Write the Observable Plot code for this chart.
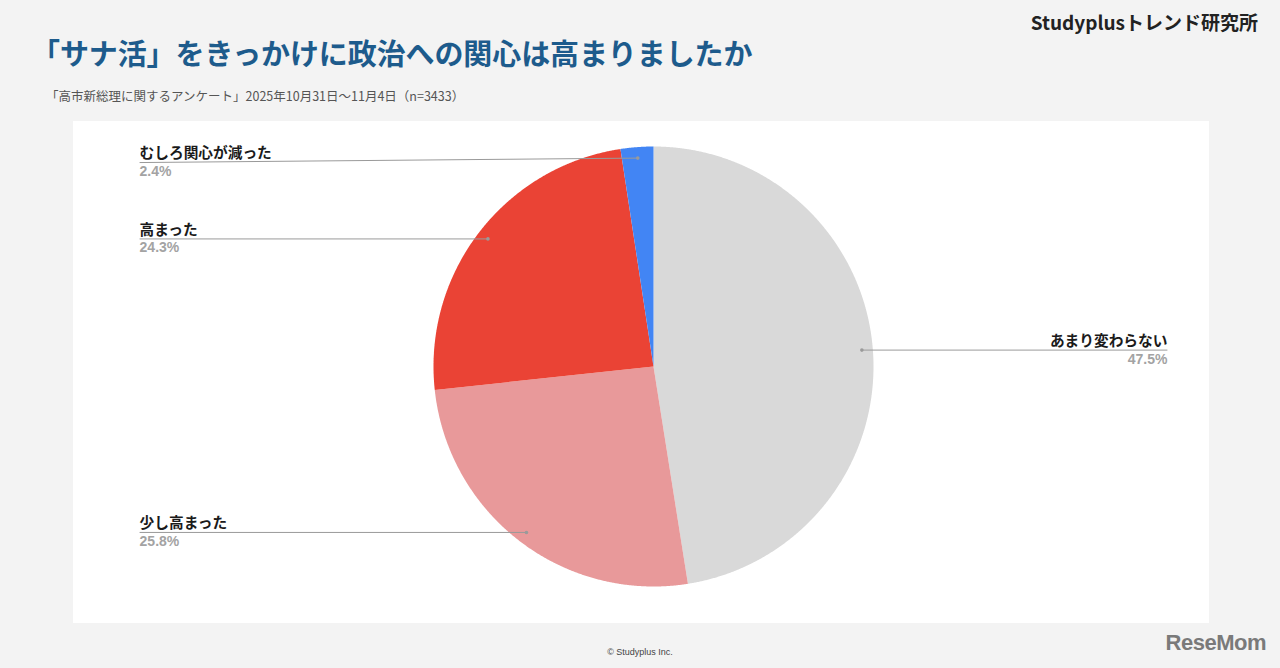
<!DOCTYPE html>
<html lang="ja">
<head>
<meta charset="utf-8">
<script src="https://cdn.jsdelivr.net/npm/d3@7"></script>
<script src="https://cdn.jsdelivr.net/npm/@observablehq/plot@0.6"></script>
<style>
  html, body { margin: 0; padding: 0; }
  body { width: 1280px; height: 668px; background: #f3f3f3; position: relative; overflow: hidden;
         font-family: "Noto Sans CJK JP", "Noto Sans", sans-serif; }
  .abs { position: absolute; white-space: nowrap; }
  #title { left: 31px; top: 32px; font-size: 29px; font-weight: 700; color: #1d5b8c; letter-spacing: -0.1px; line-height: 40px; }
  #subtitle { left: 46px; top: 87px; font-size: 12.5px; color: #555; line-height: 18px; }
  #brand { right: 22px; top: 9px; font-size: 19px; font-weight: 700; color: #222; line-height: 26px; }
  #panel { left: 73px; top: 121px; width: 1136px; height: 502px; background: #fff; }
  #footer { left: 0; width: 1280px; text-align: center; top: 647px; font-size: 9px; color: #444; font-family: "Liberation Sans", Arial, sans-serif; }
  #logo { right: 14px; top: 630px; font-size: 22px; font-weight: 700; color: #7a7a7a; font-family: "Liberation Sans", Arial, sans-serif; letter-spacing: -0.5px; }
</style>
</head>
<body>
<div id="title" class="abs">「サナ活」をきっかけに政治への関心は高まりましたか</div>
<div id="subtitle" class="abs">「高市新総理に関するアンケート」2025年10月31日～11月4日（n=3433）</div>
<div id="brand" class="abs">Studyplusトレンド研究所</div>
<div id="panel" class="abs"></div>
<div id="footer" class="abs">© Studyplus Inc.</div>
<div id="logo" class="abs">ReseMom</div>
<script>
// ---- data ----
const categories = ["あまり変わらない", "少し高まった", "高まった", "むしろ関心が減った"];
const values = [47.5, 25.8, 24.3, 2.4];
const valueLabels = ["47.5%", "25.8%", "24.3%", "2.4%"];
const colors = ["#d9d9d9", "#e8999a", "#ea4335", "#4285f4"];

// ---- layout (unit = pie radius) ----
const W = 1136, H = 502, R = 220;
const cx = 580, cy = 245;           // pie centre in panel px
const dotR = 0.95;                  // leader dot radius fraction
const labelX = 2.336;               // label column distance
const maxLabelY = 0.927;

const slices = d3.pie().sort(null).value(d => d.value)(
  categories.map((c, i) => ({cat: c, value: values[i], label: valueLabels[i]}))
).map(a => {
  const mid = (a.startAngle + a.endAngle) / 2;
  const dx = dotR * Math.sin(mid), dy = dotR * Math.cos(mid);
  const left = mid > Math.PI;
  const ly = Math.max(-maxLabelY, Math.min(maxLabelY, dy));
  return {...a.data, start: a.startAngle, end: a.endAngle, dx, dy,
          lx: left ? -labelX : labelX, ly, left};
});
const leftSlices = slices.filter(s => s.left);
const rightSlices = slices.filter(s => !s.left);

const piePoints = [];
for (const s of slices) {
  piePoints.push({cat: s.cat, x: 0, y: 0});
  const n = Math.max(2, Math.ceil((s.end - s.start) / 0.004));
  for (let k = 0; k <= n; k++) {
    const a = s.start + (s.end - s.start) * k / n;
    piePoints.push({cat: s.cat, x: Math.sin(a), y: Math.cos(a)});
  }
  piePoints.push({cat: s.cat, x: 0, y: 0});
}

const nameStyle = {x: "lx", y: "ly", text: "cat", lineAnchor: "middle", dy: -9,
  fontSize: 14.7, fontWeight: 700, fill: "#1a1a1a"};
const valStyle = {x: "lx", y: "ly", text: "label", lineAnchor: "middle", dy: 9,
  fontSize: 14, fontWeight: 700, fill: "#a3a3a3", fontFamily: "'Liberation Sans', Arial, sans-serif"};

const chart = Plot.plot({
  width: W, height: H, margin: 0,
  x: {domain: [-cx / R, (W - cx) / R], axis: null},
  y: {domain: [-(H - cy) / R, cy / R], axis: null},
  color: {domain: categories, range: colors},
  style: {background: "transparent", fontFamily: "'Noto Sans CJK JP', sans-serif"},
  marks: [
    Plot.line(piePoints, {x: "x", y: "y", z: "cat", fill: "cat", stroke: "none", curve: "linear"}),
    Plot.link(slices, {x1: "dx", y1: "dy", x2: "lx", y2: "ly", stroke: "#9a9a9a", strokeWidth: 1}),
    Plot.dot(slices, {x: "dx", y: "dy", r: 1.8, fill: "#9a9a9a"}),
    Plot.text(leftSlices, {...nameStyle, textAnchor: "start"}),
    Plot.text(leftSlices, {...valStyle, textAnchor: "start"}),
    Plot.text(rightSlices, {...nameStyle, textAnchor: "end"}),
    Plot.text(rightSlices, {...valStyle, textAnchor: "end"})
  ]
});
document.getElementById("panel").appendChild(chart);
</script>
</body>
</html>
